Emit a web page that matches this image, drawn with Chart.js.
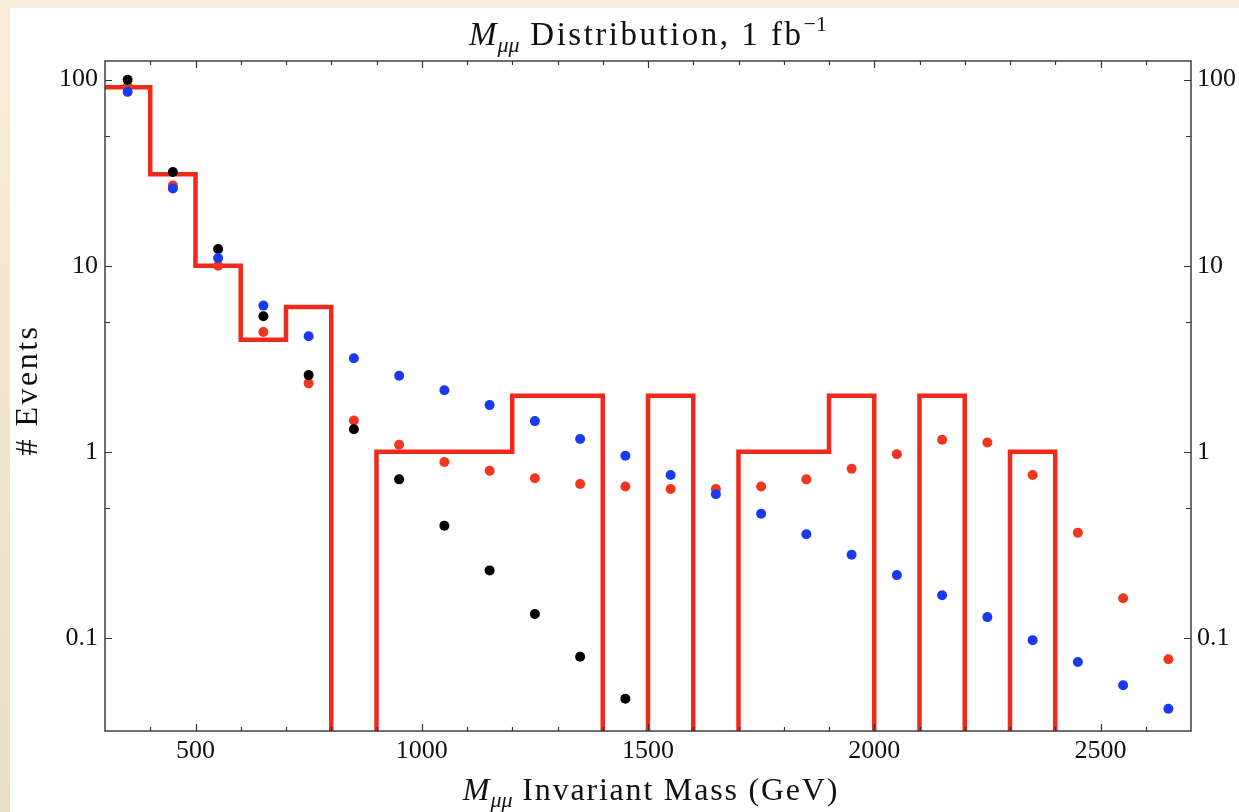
<!DOCTYPE html>
<html>
<head>
<meta charset="utf-8">
<title>M_mumu Distribution</title>
<script src="https://cdn.jsdelivr.net/npm/chart.js@4.4.1/dist/chart.umd.min.js"></script>
<style>
  html, body { margin: 0; padding: 0; width: 1239px; height: 812px; overflow: hidden; }
  body { background: linear-gradient(to bottom, #f8eedb, #e9dec5); }
  #paper { position: absolute; left: 10px; top: 8px; right: 0; bottom: 0; background: #fff; }
  #wrap { position: absolute; left: 0; top: 0; width: 1239px; height: 812px; }
</style>
</head>
<body>
<div id="paper"></div>
<div id="wrap"><canvas id="massChart"></canvas></div>
<script>
// histogram bins (GeV) and observed counts
var binEdges = [300, 400, 500, 600, 700, 800, 900, 1000, 1100, 1200, 1300, 1400, 1500,
                1600, 1700, 1800, 1900, 2000, 2100, 2200, 2300, 2400, 2500, 2600, 2700];
var histCounts = [91, 31, 10, 4, 6, 0, 1, 1, 1, 2, 2, 0, 2, 0, 1, 1, 2, 0, 2, 0, 1, 0, 0, 0];

// predictions, one value per bin centre
var binCenters = [350, 450, 550, 650, 750, 850, 950, 1050, 1150, 1250, 1350, 1450,
                  1550, 1650, 1750, 1850, 1950, 2050, 2150, 2250, 2350, 2450, 2550, 2650];
var blackValues = [100, 31.9, 12.3, 5.35, 2.58, 1.32, 0.71, 0.40, 0.23, 0.134, 0.079, 0.047];
var blueValues = [86, 26, 11.0, 6.1, 4.17, 3.18, 2.56, 2.14, 1.78, 1.46, 1.17, 0.95,
                  0.75, 0.59, 0.464, 0.36, 0.279, 0.217, 0.169, 0.129, 0.097, 0.074, 0.0555, 0.0415];
var redValues = [92, 27, 10.0, 4.4, 2.33, 1.47, 1.09, 0.88, 0.79, 0.72, 0.67, 0.65,
                 0.63, 0.63, 0.65, 0.71, 0.81, 0.97, 1.16, 1.12, 0.75, 0.367, 0.163, 0.0765];

// axes
var xTickValues = [500, 1000, 1500, 2000, 2500];
var xTickMarks = [400, 500, 600, 700, 800, 900, 1000, 1100, 1200, 1300, 1400, 1500, 1600,
                  1700, 1800, 1900, 2000, 2100, 2200, 2300, 2400, 2500, 2600];
var yTickValues = [0.1, 1, 10, 100];
var yMinorMarks = [0.5, 5, 50];

var HIST_FLOOR = 1e-3;   // empty bins drop below the axis
var SERIF = '"Liberation Serif", "Times New Roman", serif';

function toPoints(values) {
  return values.map(function (v, i) { return { x: binCenters[i], y: v }; });
}

var histLine = [];
histCounts.forEach(function (c, i) {
  var y = c > 0 ? c : HIST_FLOOR;
  histLine.push({ x: binEdges[i], y: y }, { x: binEdges[i + 1], y: y });
});

// draws a run of text pieces (italic, sub/superscript) centred on cx
function drawRich(ctx, parts, cx, cy, rotate) {
  ctx.save();
  ctx.translate(cx, cy);
  if (rotate) ctx.rotate(-Math.PI / 2);
  ctx.fillStyle = '#111';
  ctx.textBaseline = 'alphabetic';
  ctx.textAlign = 'left';
  var total = 0;
  parts.forEach(function (p) {
    ctx.font = (p.italic ? 'italic ' : '') + p.size + 'px ' + SERIF;
    ctx.letterSpacing = (p.spacing || 0) + 'px';
    p.w = ctx.measureText(p.t).width;
    total += p.w;
  });
  var x = -total / 2;
  parts.forEach(function (p) {
    ctx.font = (p.italic ? 'italic ' : '') + p.size + 'px ' + SERIF;
    ctx.letterSpacing = (p.spacing || 0) + 'px';
    ctx.fillText(p.t, x, p.dy || 0);
    x += p.w;
  });
  ctx.restore();
}

var axisFrame = {
  id: 'axisFrame',
  afterDatasetsDraw: function (chart) {
    var ctx = chart.ctx;
    var a = chart.chartArea;
    var xs = chart.scales.x;
    var ys = chart.scales.y;
    ctx.save();
    ctx.strokeStyle = '#333';
    ctx.lineWidth = 1.4;
    ctx.strokeRect(a.left, a.top, a.right - a.left, a.bottom - a.top);
    ctx.beginPath();
    xTickMarks.forEach(function (v) {
      var px = Math.round(xs.getPixelForValue(v)) + 0.5;
      var len = xTickValues.indexOf(v) >= 0 ? 7 : 4;
      ctx.moveTo(px, a.bottom); ctx.lineTo(px, a.bottom - len);
      ctx.moveTo(px, a.top); ctx.lineTo(px, a.top + len);
    });
    yTickValues.concat(yMinorMarks).forEach(function (v) {
      var py = Math.round(ys.getPixelForValue(v)) + 0.5;
      var len = yTickValues.indexOf(v) >= 0 ? 7 : 5;
      ctx.moveTo(a.left, py); ctx.lineTo(a.left + len, py);
      ctx.moveTo(a.right, py); ctx.lineTo(a.right - len, py);
    });
    ctx.lineWidth = 1.2;
    ctx.stroke();
    ctx.restore();
  },
  afterDraw: function (chart) {
    var ctx = chart.ctx;
    var a = chart.chartArea;
    var mid = (a.left + a.right) / 2;
    drawRich(ctx, [
      { t: 'M', italic: true, size: 33, spacing: 1 },
      { t: 'μμ', italic: true, size: 22, dy: 7 },
      { t: ' Distribution, 1 fb', size: 33, spacing: 2.5 },
      { t: '−1', size: 22, dy: -14 }
    ], mid, 45, false);
    drawRich(ctx, [
      { t: 'M', italic: true, size: 32, spacing: 1 },
      { t: 'μμ', italic: true, size: 22, dy: 7 },
      { t: ' Invariant Mass (GeV)', size: 32, spacing: 1.8 }
    ], mid + 3, 800, false);
    drawRich(ctx, [
      { t: '# Events', size: 32, spacing: 2.5 }
    ], 37, (a.top + a.bottom) / 2 - 6, true);
  }
};

function tickFont() { return { family: SERIF, size: 26 }; }
function plainLabel(v) { return String(v); }

new Chart(document.getElementById('massChart').getContext('2d'), {
  type: 'scatter',
  data: {
    datasets: [
      {
        label: 'Data',
        data: histLine,
        showLine: true,
        borderColor: '#ee2a1b',
        borderWidth: 4.5,
        borderJoinStyle: 'miter',
        pointRadius: 0,
        fill: false,
        tension: 0,
        clip: 0,
        order: 4
      },
      {
        label: 'Red',
        data: toPoints(redValues),
        backgroundColor: '#f0361f',
        pointRadius: 5,
        pointBorderWidth: 0,
        order: 3
      },
      {
        label: 'Black',
        data: toPoints(blackValues),
        backgroundColor: '#000',
        pointRadius: 5,
        pointBorderWidth: 0,
        order: 2
      },
      {
        label: 'Blue',
        data: toPoints(blueValues),
        backgroundColor: '#1a3af2',
        pointRadius: 5,
        pointBorderWidth: 0,
        order: 1
      }
    ]
  },
  plugins: [axisFrame],
  options: {
    responsive: true,
    maintainAspectRatio: false,
    animation: false,
    events: [],
    layout: { padding: { top: 61, left: 0, right: 0, bottom: 0 } },
    scales: {
      x: {
        type: 'linear',
        position: 'bottom',
        min: 300,
        max: 2700,
        grid: { display: false, drawTicks: false },
        border: { display: false },
        ticks: { font: tickFont(), color: '#111', padding: 5, maxRotation: 0, callback: plainLabel },
        afterBuildTicks: function (s) { s.ticks = xTickValues.map(function (v) { return { value: v }; }); },
        afterFit: function (s) { s.height = 81; }
      },
      y: {
        type: 'logarithmic',
        position: 'left',
        min: 0.0315,
        max: 126,
        grid: { display: false, drawTicks: false },
        border: { display: false },
        ticks: { font: tickFont(), color: '#111', padding: 7, callback: plainLabel },
        afterBuildTicks: function (s) { s.ticks = yTickValues.map(function (v) { return { value: v }; }); },
        afterFit: function (s) { s.width = 105; }
      },
      y2: {
        type: 'logarithmic',
        position: 'right',
        min: 0.0315,
        max: 126,
        grid: { display: false, drawTicks: false },
        border: { display: false },
        ticks: { font: tickFont(), color: '#111', padding: 6, callback: plainLabel },
        afterBuildTicks: function (s) { s.ticks = yTickValues.map(function (v) { return { value: v }; }); },
        afterFit: function (s) { s.width = 48; }
      }
    },
    plugins: {
      legend: { display: false },
      tooltip: { enabled: false },
      title: { display: false }
    }
  }
});
</script>
</body>
</html>
